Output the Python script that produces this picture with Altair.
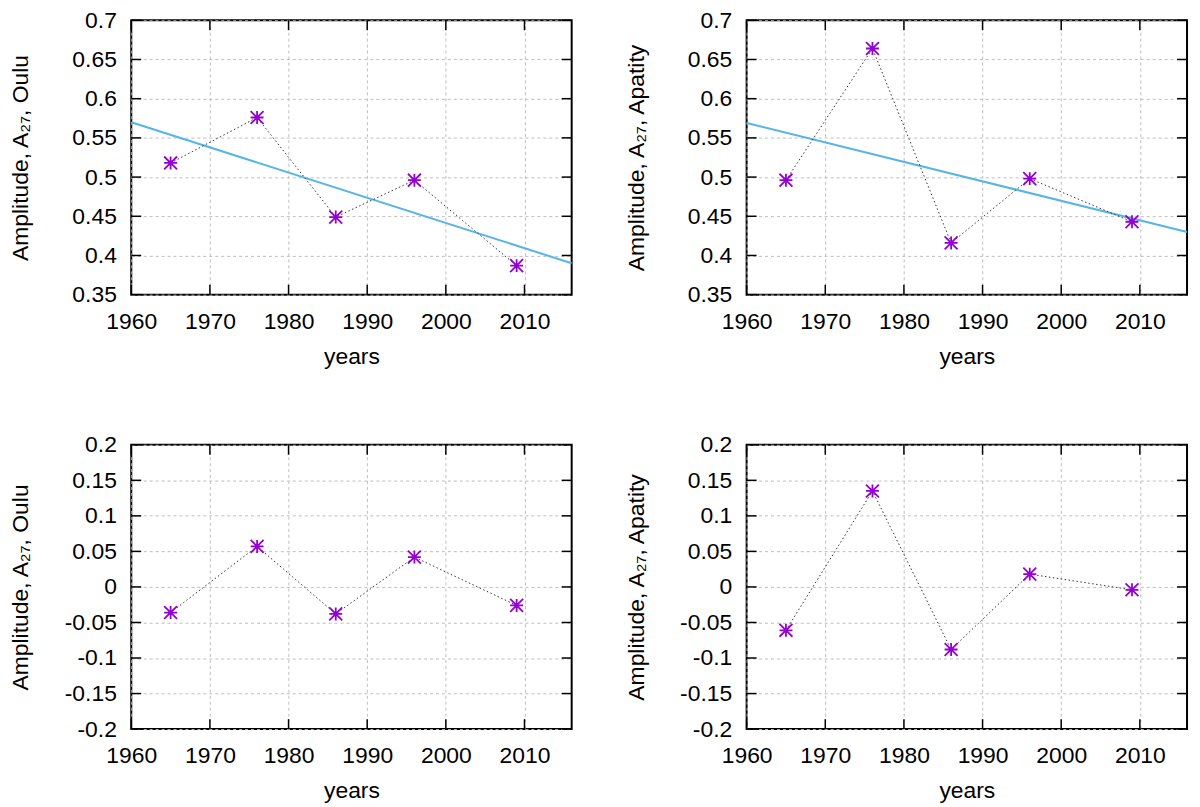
import altair as alt
import pandas as pd

# measurement years and the A27 amplitudes at the two stations
years = [1965, 1976, 1986, 1996, 2009]
oulu = [0.518, 0.576, 0.449, 0.496, 0.387]
apatity = [0.496, 0.664, 0.416, 0.498, 0.443]

# deviations from the linear trend (lower panels)
oulu_resid = [-0.036, 0.057, -0.038, 0.042, -0.026]
apatity_resid = [-0.061, 0.135, -0.088, 0.018, -0.004]

# linear trend, end points
trend_years = [1960, 2016]
oulu_trend = [0.570, 0.390]
apatity_trend = [0.569, 0.430]

x_ticks = [1960, 1970, 1980, 1990, 2000, 2010]
top_ticks = [0.35, 0.4, 0.45, 0.5, 0.55, 0.6, 0.65, 0.7]
bottom_ticks = [-0.2, -0.15, -0.1, -0.05, 0, 0.05, 0.1, 0.15, 0.2]

FONT = "Liberation Sans"
W = 443
STAR = "M-1,0H1M0,-1V1M-1,-1L1,1M-1,1L1,-1"


def panel(values, ticks, title, height, trend=None):
    """One gnuplot-style panel: dotted series with star markers, inward ticks."""
    x = alt.X(
        "year:Q",
        scale=alt.Scale(domain=[1960, 2016], nice=False, zero=False),
        axis=alt.Axis(values=x_ticks, format="d", title="years",
                      titleX=W / 2, titleY=69),
    )
    y = alt.Y(
        "amp:Q",
        scale=alt.Scale(domain=[ticks[0], ticks[-1]], nice=False, zero=False),
        axis=alt.Axis(values=ticks, title=title, titleX=-104, titleY=height / 2,
                      labelExpr="replace(format(datum.value, '~g'), '\u2212', '-')"),
    )
    pts = alt.Chart(pd.DataFrame({"year": years, "amp": values})).encode(x=x, y=y)
    layers = []
    if trend is not None:
        tr = pd.DataFrame({"year": trend_years, "amp": trend})
        layers.append(alt.Chart(tr).mark_line(color="#56B4E9", strokeWidth=2)
                      .encode(x=x, y=y))
    layers.append(pts.mark_line(color="#333333", strokeDash=[1.5, 2.5], strokeWidth=1))
    layers.append(pts.mark_point(shape=STAR, size=169, color="#9400D3",
                                 filled=False, strokeWidth=1.8, opacity=1))

    xt = alt.Chart(pd.DataFrame({"year": x_ticks}))
    yt = alt.Chart(pd.DataFrame({"amp": ticks}))
    tick = dict(color="black", strokeWidth=1.5)
    layers += [
        xt.mark_rule(**tick).encode(x=x, y=alt.value(0), y2=alt.value(10)),
        xt.mark_rule(**tick).encode(x=x, y=alt.value(height - 10), y2=alt.value(height)),
        yt.mark_rule(**tick).encode(y=y, x=alt.value(0), x2=alt.value(10)),
        yt.mark_rule(**tick).encode(y=y, x=alt.value(W - 10), x2=alt.value(W)),
    ]
    return alt.layer(*layers).properties(width=W, height=height)


TOP_H = 276
BOT_H = 286

chart = alt.concat(
    panel(oulu, top_ticks, "Amplitude, A\u2082\u2087, Oulu", TOP_H, oulu_trend),
    panel(apatity, top_ticks, "Amplitude, A\u2082\u2087, Apatity", TOP_H, apatity_trend),
    panel(oulu_resid, bottom_ticks, "Amplitude, A\u2082\u2087, Oulu", BOT_H),
    panel(apatity_resid, bottom_ticks, "Amplitude, A\u2082\u2087, Apatity", BOT_H),
    columns=2,
    spacing={"row": 151, "column": 176},
    bounds="flush",
    padding={"top": -2, "left": 0, "right": 0, "bottom": 0},
).configure_view(
    stroke="black", strokeWidth=2
).configure_axis(
    labelFont=FONT, labelFontSize=23, labelColor="black", labelFlush=False,
    titleFont=FONT, titleFontSize=23, titleFontWeight="normal", titleColor="black",
    grid=True, gridColor="#bdbdbd", gridDash=[3, 3], gridWidth=1,
    ticks=False, tickSize=0, domain=False,
).configure_axisX(
    labelPadding=34, labelBaseline="alphabetic", titleBaseline="alphabetic"
).configure_axisY(
    labelPadding=15, titleBaseline="alphabetic"
)

chart.save("out.html", embed_options={"renderer": "svg", "actions": False})
